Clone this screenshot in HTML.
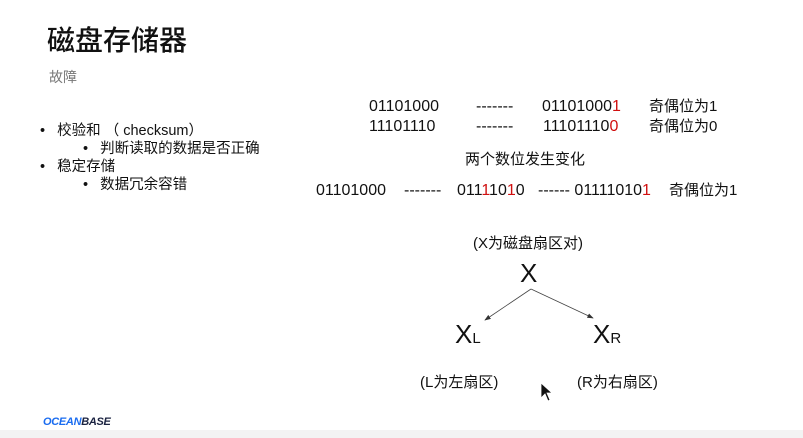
<!DOCTYPE html>
<html><head><meta charset="utf-8"><style>
body{margin:0;width:803px;height:438px;background:#fff;position:relative;overflow:hidden;font-family:"Liberation Sans","Noto Sans CJK SC",sans-serif;color:#111}
.a{position:absolute;white-space:nowrap;line-height:1}
.r{color:#d01010}
.m{font-size:16px}
</style></head><body>
<div class="a" style="left:47px;top:27px;font-size:28px;font-weight:500">磁盘存储器</div>
<div class="a" style="left:49px;top:70px;font-size:14px;color:#777">故障</div>
<div class="a" style="left:40px;top:124px;font-size:14.5px">•&nbsp;&nbsp;&nbsp;校验和 （ checksum）</div>
<div class="a" style="left:83px;top:142px;font-size:14.5px">•&nbsp;&nbsp;&nbsp;判断读取的数据是否正确</div>
<div class="a" style="left:40px;top:160px;font-size:14.5px">•&nbsp;&nbsp;&nbsp;稳定存储</div>
<div class="a" style="left:83px;top:178px;font-size:14.5px">•&nbsp;&nbsp;&nbsp;数据冗余容错</div>

<div class="a m" style="left:369px;top:99px">01101000</div>
<div class="a m" style="left:476px;top:99px">-------</div>
<div class="a m" style="left:542px;top:99px">01101000<span class="r">1</span></div>
<div class="a m" style="left:649px;top:99px;font-size:15px">奇偶位为1</div>
<div class="a m" style="left:369px;top:119px">11101110</div>
<div class="a m" style="left:476px;top:119px">-------</div>
<div class="a m" style="left:543px;top:119px">11101110<span class="r">0</span></div>
<div class="a m" style="left:649px;top:119px;font-size:15px">奇偶位为0</div>
<div class="a" style="left:465px;top:152px;font-size:15px">两个数位发生变化</div>
<div class="a m" style="left:316px;top:183px">01101000</div>
<div class="a m" style="left:404px;top:183px">-------</div>
<div class="a m" style="left:457px;top:183px">011<span class="r">1</span>10<span class="r">1</span>0</div>
<div class="a m" style="left:538px;top:183px">------ 01111010<span class="r">1</span></div>
<div class="a" style="left:669px;top:183px;font-size:15px">奇偶位为1</div>

<div class="a" style="left:473px;top:236px;font-size:15px">(X为磁盘扇区对)</div>
<div class="a" style="left:520px;top:260px;font-size:26px">X</div>
<svg class="a" style="left:0;top:0" width="803" height="438">
<defs><marker id="m" markerWidth="8" markerHeight="6" refX="7" refY="3" orient="auto"><path d="M0,0L8,3L0,6z" fill="#333"/></marker></defs>
<line x1="531" y1="289" x2="485" y2="320" stroke="#444" stroke-width="0.8" marker-end="url(#m)"/>
<line x1="531" y1="289" x2="593" y2="318" stroke="#444" stroke-width="0.8" marker-end="url(#m)"/>
<path d="M541,383 L541,398 L545,394 L548,401 L550,400 L547,393 L552,393 Z" fill="#111" stroke="#fff" stroke-width="0.8"/>
</svg>
<div class="a" style="left:455px;top:321px;font-size:26px">X<span style="font-size:15px">L</span></div>
<div class="a" style="left:593px;top:321px;font-size:26px">X<span style="font-size:15px">R</span></div>
<div class="a" style="left:420px;top:375px;font-size:15px">(L为左扇区)</div>
<div class="a" style="left:577px;top:375px;font-size:15px">(R为右扇区)</div>

<div class="a" style="left:43px;top:417px;font-size:11px;font-weight:900;font-style:italic;letter-spacing:-0.3px"><span style="color:#1a6cf0">OCEAN</span><span style="color:#1a2240">BASE</span></div>
<div style="position:absolute;left:0;top:430px;width:803px;height:8px;background:#f3f3f3"></div>
</body></html>
